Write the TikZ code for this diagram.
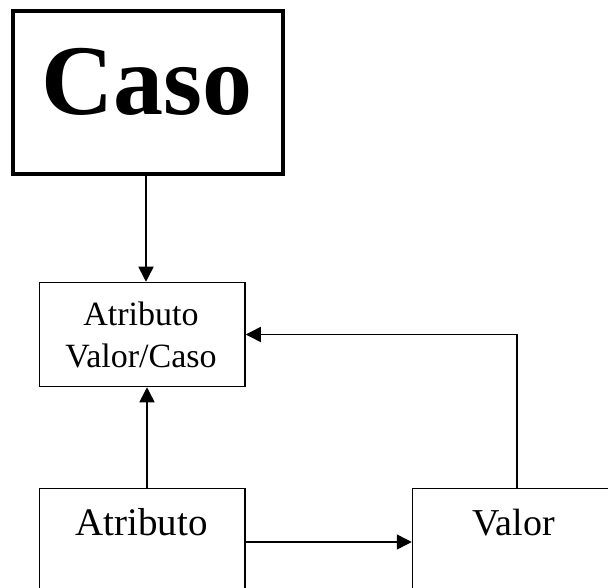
\documentclass[tikz,border=0pt]{standalone}
\usepackage{fontspec}
\setmainfont{Liberation Serif}
\usetikzlibrary{arrows.meta}
\begin{document}
\begin{tikzpicture}[x=1pt,y=-1pt,
  box/.style={draw,rectangle,inner sep=0pt,line width=1.5pt},
  arr/.style={line width=1.5pt,-{Triangle[length=15pt,width=15pt]}},
  txt/.style={inner sep=0pt,anchor=base}]
\useasboundingbox (0,0) rectangle (608,588);
\clip (0,0) rectangle (608,588);
% boxes
\node[box,line width=4pt,minimum width=269.5pt,minimum height=163pt] (caso) at (147.75,92.5) {};
\node[box,minimum width=205.5pt,minimum height=104pt] (avc) at (142.25,334.5) {};
\node[box,minimum width=205.5pt,minimum height=131pt] (atr) at (142.25,554) {};
\node[box,minimum width=227.5pt,minimum height=131pt] (val) at (526.25,554) {};
% texts
\node[txt,font=\fontsize{100}{100}\selectfont\bfseries] (tcaso) at (147,115) {Caso};
\node[txt,font=\fontsize{34}{41}\selectfont] (tavc1) at (141,325) {Atributo};
\node[txt,font=\fontsize{34}{41}\selectfont] (tavc2) at (141,367) {Valor/Caso};
\node[txt,font=\fontsize{39}{39}\selectfont] (tatr) at (141.5,535) {Atributo};
\node[txt,font=\fontsize{38}{38}\selectfont] (tval) at (513.5,535) {Valor};
% connectors
\coordinate (cx) at (146,0);
\coordinate (ux) at (147,0);
\coordinate (hy) at (0,542);
\coordinate (vx) at (517,0);
\draw[arr] (cx |- caso.south) -- (cx |- avc.north);
\draw[arr] (ux |- atr.north) -- (ux |- avc.south);
\draw[arr] (atr.east |- hy) -- (val.west |- hy);
\draw[arr] (vx |- val.north) |- (avc.east);
\end{tikzpicture}
\end{document}
